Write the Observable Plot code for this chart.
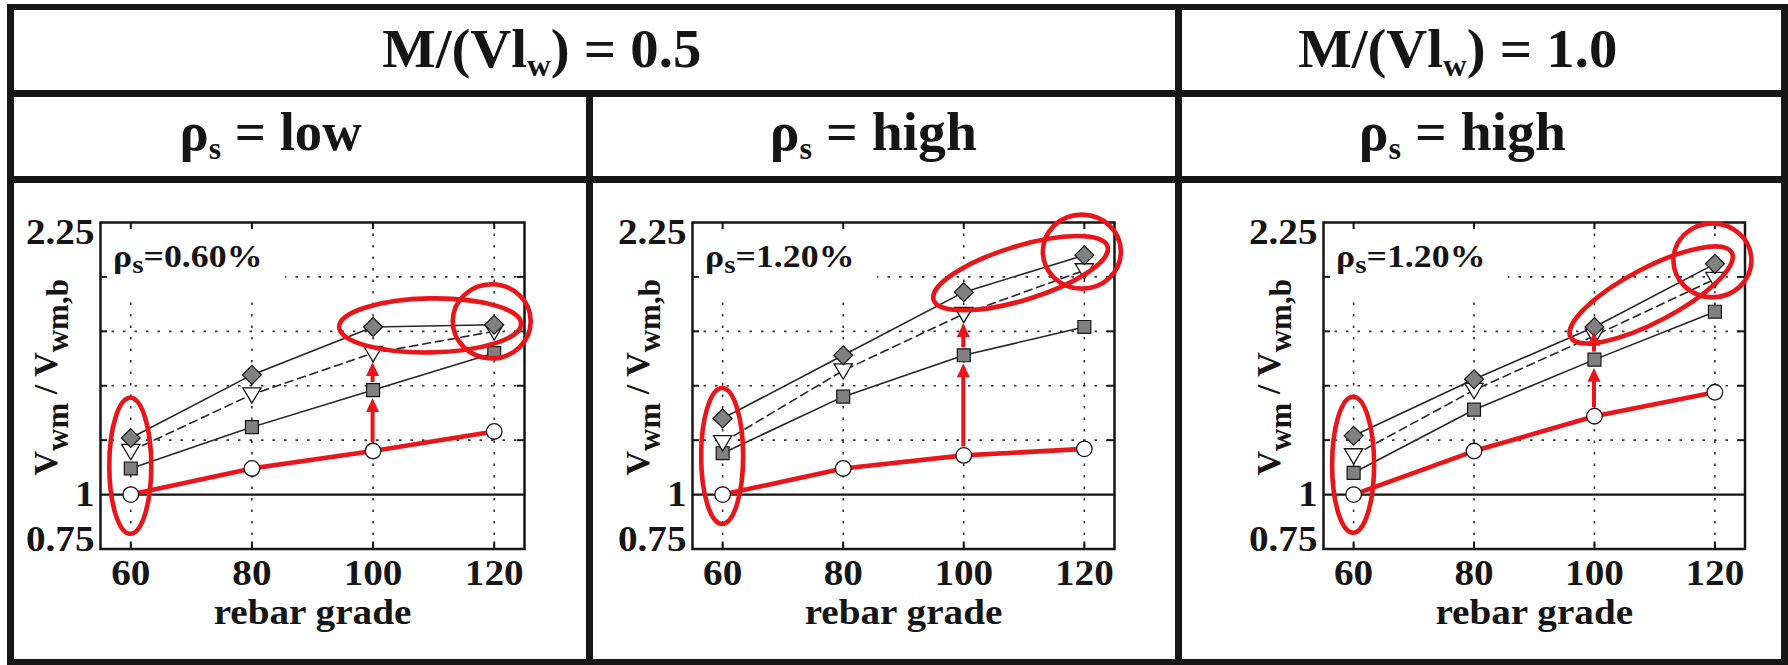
<!DOCTYPE html>
<html><head><meta charset="utf-8">
<script src="https://cdn.jsdelivr.net/npm/d3@7"></script>
<script src="https://cdn.jsdelivr.net/npm/@observablehq/plot@0.6"></script>
<style>
body{margin:0;background:#fff;}
#root{position:relative;width:1788px;height:665px;overflow:hidden;background:#fff;font-family:"Liberation Serif","Tinos","Nimbus Roman","Times New Roman","DejaVu Serif","Noto Serif",serif;font-weight:bold;color:#151515;}
.bar{position:absolute;background:#161616;}
.hdr{position:absolute;font-size:55px;line-height:55px;white-space:pre;text-align:center;width:600px;}
.hdr span{display:inline-block;transform-origin:50% 50%;}
.hdr sub{font-size:0.58em;vertical-align:-0.27em;line-height:0;}
.panel{position:absolute;}
.panel svg{overflow:visible;}
</style></head><body><div id="root"></div>
<script>
// ---------- data ----------
const grades = [60, 80, 100, 120];
const xTicks = [60, 80, 100, 120];
const yTickLabels = [0.75, 1, 2.25];
const yGrid = [1.25, 1.5, 1.75, 2];
const unityLine = [1];
const xLabel = "rebar grade";
const yLabel = "V_{wm} / V_{wm,b}";
const headersTop = ["M/(Vl_{w}) = 0.5", "M/(Vl_{w}) = 1.0"];
const headersMid = ["ρ_{s} = low", "ρ_{s} = high", "ρ_{s} = high"];
const ratioLabels = ["ρ_{s}=0.60%", "ρ_{s}=1.20%", "ρ_{s}=1.20%"];
const seriesKeys = ["circle", "square", "triangle", "diamond"];

const p1Circle   = [1.00, 1.12, 1.20, 1.29];
const p1Square   = [1.12, 1.31, 1.48, 1.65];
const p1Triangle = [1.20, 1.46, 1.65, 1.75];
const p1Diamond  = [1.26, 1.55, 1.77, 1.78];

const p2Circle   = [1.00, 1.12, 1.18, 1.21];
const p2Square   = [1.19, 1.45, 1.64, 1.77];
const p2Triangle = [1.24, 1.57, 1.83, 2.03];
const p2Diamond  = [1.35, 1.64, 1.93, 2.10];

const p3Circle   = [1.00, 1.20, 1.36, 1.47];
const p3Square   = [1.10, 1.39, 1.62, 1.84];
const p3Triangle = [1.18, 1.48, 1.73, 1.99];
const p3Diamond  = [1.27, 1.53, 1.77, 2.06];

const arrowGrade = 100;
const arrowSteps = [["circle", "square"], ["square", "triangle"]];
const highlights = [
  {kind: "column", grade: 60},
  {kind: "pair", grades: [100, 120], series: "diamond"},
  {kind: "point", grade: 120, series: "diamond"}
];

const panels = [
  {circle: p1Circle, square: p1Square, triangle: p1Triangle, diamond: p1Diamond},
  {circle: p2Circle, square: p2Square, triangle: p2Triangle, diamond: p2Diamond},
  {circle: p3Circle, square: p3Square, triangle: p3Triangle, diamond: p3Diamond}
];

// ---------- layout / style ----------
const FONT = '"Liberation Serif","Tinos","Nimbus Roman","Times New Roman","DejaVu Serif","Noto Serif",serif';
const INK = "#151515";
const RED = "#e8161b";
const GRAY = "#808080";
const STRETCH = 1.12;
const layout = [
  {frameLeft: 99.5, frameWidth: 424},
  {frameLeft: 691.5, frameWidth: 422},
  {frameLeft: 1322.5, frameWidth: 421.5}
];
const frameTop = 222, frameHeight = 326.5;
const mL = 95, mR = 22, mT = 22, mB = 116;
const topEdge = {circle: 8.5, square: 7.5, triangle: 7.5, diamond: 10};
const bottomEdge = {circle: 8.5, square: 8.5, triangle: 9.5, diamond: 10};
const headLen = 14;

function parseParts(str) {
  const out = []; const re = /_\{([^}]*)\}/g; let last = 0, m;
  while ((m = re.exec(str))) {
    if (m.index > last) out.push([str.slice(last, m.index), false]);
    out.push([m[1], true]); last = re.lastIndex;
  }
  if (last < str.length) out.push([str.slice(last), false]);
  return out;
}

const triangleDown = {
  draw(ctx, size) {
    const r = Math.sqrt(size / Math.PI);
    const hw = 1.1 * r, top = -0.8 * r, bot = 1.05 * r;
    ctx.moveTo(-hw, top); ctx.lineTo(hw, top); ctx.lineTo(0, bot); ctx.closePath();
  }
};

const root = document.getElementById("root");

function richText(sel, str, size, subSize, drop) {
  let lowered = false;
  for (const [s, sub] of parseParts(str)) {
    const dy = sub && !lowered ? drop : (!sub && lowered ? -drop : 0);
    lowered = sub;
    sel.append("tspan").attr("dy", dy).attr("font-size", sub ? subSize : size).text(s);
  }
}

const fmt = d => String(d);

function makePanel(k) {
  const {frameLeft, frameWidth} = layout[k];
  const S = panels[k];
  const rows = grades.map((g, i) => ({grade: g, circle: S.circle[i], square: S.square[i], triangle: S.triangle[i], diamond: S.diamond[i]}));
  const W = mL + frameWidth + mR, H = mT + frameHeight + mB;

  const legendBox = (index, scales, values, dim) =>
    d3.create("svg:rect").attr("x", dim.marginLeft + 1).attr("y", dim.marginTop + 1)
      .attr("width", 184).attr("height", 71).attr("fill", "#fff").node();

  const legendText = (index, scales, values, dim) => {
    const x0 = dim.marginLeft + 13, y0 = dim.marginTop + 45;
    const t = d3.create("svg:text").attr("transform", `translate(${x0},${y0}) scale(${STRETCH},1)`)
      .attr("text-anchor", "start").attr("fill", INK).attr("font-size", 32)
      .attr("font-family", FONT).attr("font-weight", "bold").style("white-space", "pre");
    richText(t, ratioLabels[k], 32, 26, 6);
    return t.node();
  };

  const yLabelMark = (index, scales, values, dim) => {
    const cx = dim.marginLeft - 43;
    const cy = dim.marginTop + (dim.height - dim.marginTop - dim.marginBottom) / 2 - 8;
    const t = d3.create("svg:text").attr("transform", `translate(${cx},${cy}) rotate(-90)`)
      .attr("text-anchor", "middle").attr("fill", INK).attr("font-size", 34)
      .attr("font-family", FONT).attr("font-weight", "bold").style("white-space", "pre");
    richText(t, yLabel, 34, 31, 11);
    return t.node();
  };

  const arrowMark = (index, {x, y}) => {
    const g = d3.create("svg:g");
    const i = grades.indexOf(arrowGrade), px = x(arrowGrade);
    for (const [from, to] of arrowSteps) {
      const y0 = y(S[from][i]) - topEdge[from];
      let tip = y(S[to][i]) + bottomEdge[to];
      tip = Math.min(tip, y0 - headLen - 6);
      g.append("line").attr("x1", px).attr("x2", px).attr("y1", y0).attr("y2", tip + headLen - 1)
        .attr("stroke", RED).attr("stroke-width", 4);
      g.append("path").attr("d", `M${px},${tip}L${px + 6.5},${tip + headLen}L${px - 6.5},${tip + headLen}Z`).attr("fill", RED);
    }
    return g.node();
  };

  const ellipseMark = (index, {x, y}) => {
    const g = d3.create("svg:g").attr("fill", "none").attr("stroke", RED).attr("stroke-width", 4.6);
    for (const h of highlights) {
      let cx, cy, rx, ry, rot = 0;
      if (h.kind === "column") {
        const i = grades.indexOf(h.grade);
        const vals = seriesKeys.map(s => S[s][i]);
        cx = x(h.grade); cy = (y(d3.min(vals)) + y(d3.max(vals))) / 2; rx = 21; ry = 68;
      } else if (h.kind === "pair") {
        const [a, b] = h.grades.map(gr => [x(gr), y(S[h.series][grades.indexOf(gr)])]);
        cx = (a[0] + b[0]) / 2 - 3; cy = (a[1] + b[1]) / 2;
        rot = Math.atan2(b[1] - a[1], b[0] - a[0]) * 180 / Math.PI; rx = 91; ry = 27;
      } else {
        const i = grades.indexOf(h.grade);
        cx = x(h.grade) - 2; cy = y(S[h.series][i]) - 3; rx = 39; ry = 37;
      }
      g.append("ellipse").attr("transform", `translate(${cx},${cy}) rotate(${rot})`).attr("rx", rx).attr("ry", ry);
    }
    return g.node();
  };

  const lineStroke = "#262626";
  const axisText = {tickSize: 0, label: null, fontSize: 35, tickFormat: fmt, fontFamily: FONT, fontWeight: "bold"};
  const chart = Plot.plot({
    width: W, height: H, marginLeft: mL, marginRight: mR, marginTop: mT, marginBottom: mB,
    x: {domain: [55, 125]},
    y: {domain: [0.75, 2.25]},
    style: {background: "transparent", fontFamily: FONT, fontWeight: "bold", fontSize: "35px", color: INK, overflow: "visible"},
    marks: [
      Plot.gridX(xTicks, {stroke: "#333", strokeOpacity: 1, strokeWidth: 1.6, strokeDasharray: "2.5,9"}),
      Plot.gridY(yGrid, {stroke: "#333", strokeOpacity: 1, strokeWidth: 1.6, strokeDasharray: "2.5,9"}),
      legendBox,
      Plot.tickX(xTicks, {x: d => d, insetTop: frameHeight - 7, stroke: INK, strokeWidth: 2}),
      Plot.tickX(xTicks, {x: d => d, insetBottom: frameHeight - 7, stroke: INK, strokeWidth: 2}),
      Plot.tickY(yGrid, {y: d => d, insetRight: frameWidth - 7, stroke: INK, strokeWidth: 2}),
      Plot.tickY(yGrid, {y: d => d, insetLeft: frameWidth - 7, stroke: INK, strokeWidth: 2}),
      Plot.ruleY(unityLine, {stroke: INK, strokeWidth: 2.2}),
      Plot.frame({stroke: INK, strokeWidth: 2.5}),
      Plot.axisX({...axisText, ticks: xTicks, tickPadding: 11.5}),
      Plot.axisY({...axisText, ticks: yTickLabels.filter(v => v === 1), tickPadding: 6}),
      Plot.axisY({...axisText, ticks: yTickLabels.filter(v => v === d3.min(yTickLabels)), tickPadding: 6, dy: -9}),
      Plot.axisY({...axisText, ticks: yTickLabels.filter(v => v === d3.max(yTickLabels)), tickPadding: 6, dy: 10}),
      Plot.text([xLabel], {text: d => d, frameAnchor: "bottom", lineAnchor: "bottom", dy: 75, fontSize: 35, fill: INK, fontFamily: FONT, fontWeight: "bold"}),
      Plot.line(rows, {x: "grade", y: "diamond", stroke: lineStroke, strokeWidth: 1.6}),
      Plot.line(rows, {x: "grade", y: "triangle", stroke: lineStroke, strokeWidth: 1.6, strokeDasharray: "8,5"}),
      Plot.line(rows, {x: "grade", y: "square", stroke: lineStroke, strokeWidth: 1.6}),
      Plot.line(rows, {x: "grade", y: "circle", stroke: RED, strokeWidth: 4.6}),
      Plot.dot(rows, {x: "grade", y: "circle", r: 7.8, fill: "#fff", stroke: INK, strokeWidth: 1.3}),
      Plot.dot(rows, {x: "grade", y: "square", symbol: "square", r: 7.3, fill: GRAY, stroke: INK, strokeWidth: 1.2}),
      Plot.dot(rows, {x: "grade", y: "triangle", symbol: triangleDown, r: 8.3, fill: "#fff", stroke: INK, strokeWidth: 1.3}),
      Plot.dot(rows, {x: "grade", y: "diamond", symbol: "diamond2", r: 8.5, fill: GRAY, stroke: INK, strokeWidth: 1.2}),
      legendText,
      yLabelMark,
      arrowMark,
      ellipseMark
    ]
  });
  // widen Plot's own texts (axis tick labels, x label) about their anchor point
  d3.select(chart).selectAll("g[aria-label$='tick label'] text, g[aria-label='text'] text").each(function() {
    const t = this.getAttribute("transform") || "";
    const x = +this.getAttribute("x") || 0;
    this.setAttribute("transform", `${t} translate(${x},0) scale(${STRETCH},1) translate(${-x},0)`);
  });
  const div = document.createElement("div");
  div.className = "panel";
  div.style.left = (frameLeft - mL) + "px";
  div.style.top = (frameTop - mT) + "px";
  div.style.width = W + "px";
  div.appendChild(chart);
  root.appendChild(div);
}

[0, 1, 2].forEach(makePanel);

// ---------- table borders ----------
const bars = [
  [7, 4, 1781, 6],      // top
  [7, 659, 1781, 6],    // bottom
  [7, 4, 7, 661],       // left
  [1781, 4, 7, 661],    // right
  [7, 89.5, 1781, 7.5], // row divider 1
  [7, 175.5, 1781, 7.5],// row divider 2
  [586, 95, 7, 566],    // column divider 1 (below first row)
  [1175, 8, 7, 653]     // column divider 2
];
for (const [l, t, w, h] of bars) {
  const d = document.createElement("div");
  d.className = "bar";
  Object.assign(d.style, {left: l + "px", top: t + "px", width: w + "px", height: h + "px"});
  root.appendChild(d);
}

// ---------- header texts ----------
function headerHTML(str) {
  return parseParts(str).map(([s, sub]) => sub ? `<sub>${s}</sub>` : s).join("");
}
const topCenters = [542, 1457.5], topWidths = [319, 319];
const midCenters = [271, 873.5, 1462], midWidths = [182, 207, 207];
function addHeader(str, center, baseline, targetWidth) {
  const d = document.createElement("div");
  d.className = "hdr";
  const span = document.createElement("span");
  span.innerHTML = headerHTML(str);
  d.appendChild(span);
  d.style.left = (center - 300) + "px"; d.style.top = (baseline - 46) + "px";
  root.appendChild(d);
  const w = span.getBoundingClientRect().width;
  if (w > 0) span.style.transform = `scaleX(${targetWidth / w})`;
}
headersTop.forEach((h, i) => addHeader(h, topCenters[i], 67, topWidths[i]));
headersMid.forEach((h, i) => addHeader(h, midCenters[i], 150, midWidths[i]));
</script></body></html>
